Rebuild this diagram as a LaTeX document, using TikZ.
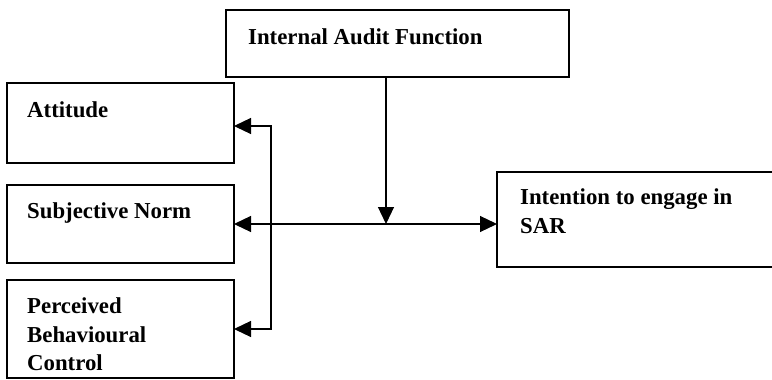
\documentclass[tikz,border=0pt]{standalone}
\usepackage{fontspec}
\setmainfont{Liberation Serif}
\usetikzlibrary{arrows.meta}
\tikzset{
  box/.style={draw=black, line width=1.2pt, inner sep=0pt, outer sep=0pt, anchor=north west},
  lbl/.style={inner sep=0pt, anchor=base west, font=\fontsize{22.8}{29}\selectfont\bfseries},
  conn/.style={line width=1.2pt, draw=black},
  arr/.style={{Triangle[length=17pt,width=16pt]}},
}
\begin{document}
\begin{tikzpicture}[x=1pt,y=-1pt]
\useasboundingbox (0,0) rectangle (772,380);
% boxes
\node[box, minimum width=343pt, minimum height=67pt] (iaf) at (226,10) {};
\node[box, minimum width=227pt, minimum height=80pt] (att) at (7,83) {};
\node[box, minimum width=227pt, minimum height=78pt] (sn) at (7,185) {};
\node[box, minimum width=227pt, minimum height=98pt] (pbc) at (7,280) {};
\node[box, minimum width=300pt, minimum height=95pt] (int) at (497,172) {};
% labels
\node[lbl] (iafl) at (248,44) {Internal Audit Function};
\node[lbl] (attl) at (27,117) {Attitude};
\node[lbl] (snl) at (27,218) {Subjective Norm};
\node[lbl] (pbcl1) at (27,313) {Perceived};
\node[lbl] (pbcl2) at (27,342) {Behavioural};
\node[lbl] (pbcl3) at (27,370) {Control};
\node[lbl] (intl1) at (520,204) {Intention to engage in};
\node[lbl] (intl2) at (520,233) {SAR};
% connectors
\coordinate (jn) at (386,224);
\coordinate (br) at (271,126);
\draw[conn, -{Triangle[length=17pt,width=16pt]}] (iaf.south -| jn) -- (jn);
\draw[conn, {Triangle[length=17pt,width=16pt]}-{Triangle[length=17pt,width=16pt]}] (sn.east |- jn) -- (int.west |- jn);
\draw[conn, {Triangle[length=17pt,width=16pt]}-{Triangle[length=17pt,width=16pt]}] (att.east |- br) -- (br) -- (br |- 0,329) -- (pbc.east |- 0,329);
\end{tikzpicture}
\end{document}
